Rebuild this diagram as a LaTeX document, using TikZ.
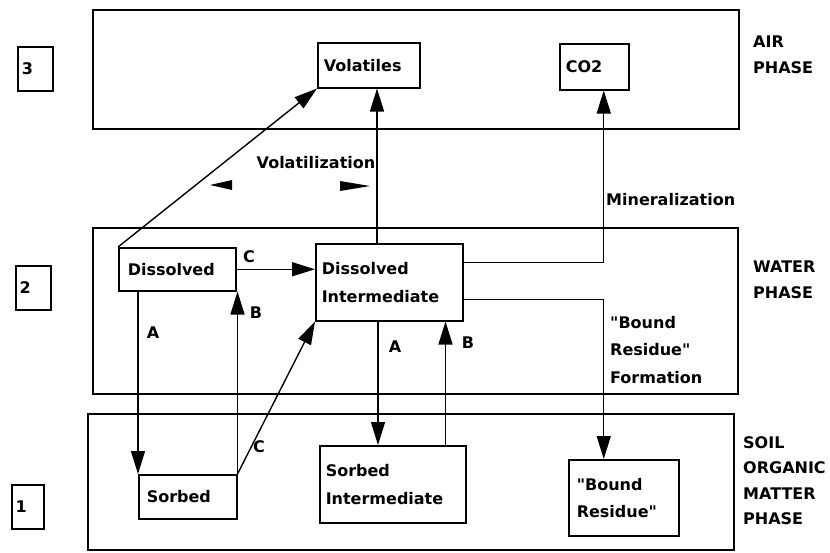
\documentclass[tikz,border=0pt]{standalone}
\usepackage{fontspec}
\setmainfont{DejaVu Sans}[Ligatures=TeXOff]
\usetikzlibrary{arrows.meta}
\begin{document}
\begin{tikzpicture}[x=1pt,y=-1pt,
  every node/.style={font=\bfseries\fontsize{16}{28}\selectfont, inner sep=0pt},
  phase/.style={draw, line width=1.7pt, anchor=north west},
  bx/.style={draw, line width=1.5pt, anchor=north west, align=left, inner xsep=6pt, inner ysep=0pt},
  lbl/.style={draw, line width=1.5pt, anchor=north west, align=left, inner xsep=4pt, minimum height=44pt},
  side/.style={anchor=north west, align=left, font=\bfseries\fontsize{16}{25.5}\selectfont},
  con/.style={line width=1.4pt},
  arr/.style={con, -{Triangle[length=23pt,width=14pt]}},
  tri/.style={fill=black}
]
\useasboundingbox[fill=white] (0,0) rectangle (830,552);

% phase boxes
\node[phase, minimum width=646pt, minimum height=119pt] (air) at (92,9) {};
\node[phase, minimum width=645pt, minimum height=166pt] (water) at (92,227) {};
\node[phase, minimum width=646pt, minimum height=136pt] (soil) at (87,413) {};

% phase numbers
\node[lbl, minimum width=35pt, text width=27pt] (n3) at (17,46) {3};
\node[lbl, minimum width=35pt, text width=27pt] (n2) at (15,265) {2};
\node[lbl, minimum width=32pt, text width=24pt] (n1) at (11,484) {1};

% phase names
\node[side] (airlab) at (753,36) {AIR\\PHASE};
\node[side] (waterlab) at (753,261) {WATER\\PHASE};
\node[side] (soillab) at (743,436) {SOIL\\ORGANIC\\MATTER\\PHASE};

% compartments
\node[bx, minimum width=102pt, text width=90pt, minimum height=45pt] (vol) at (317,42) {Volatiles};
\node[bx, minimum width=69pt, text width=57pt, minimum height=46pt] (co2) at (559,43) {CO2};
\node[bx, minimum width=117pt, minimum height=43pt, inner xsep=9pt, text width=99pt] (dis) at (118,247) {Dissolved};
\node[bx, minimum width=147pt, text width=135pt, minimum height=77pt] (di) at (315,243) {Dissolved\\Intermediate};
\node[bx, minimum width=98pt, text width=82pt, inner xsep=8pt, minimum height=44pt] (sor) at (138,474) {Sorbed};
\node[bx, minimum width=146pt, text width=134pt, minimum height=77pt] (si) at (319,445) {Sorbed\\Intermediate};
\node[bx, minimum width=110pt, text width=94pt, inner xsep=8pt, minimum height=76pt, font=\bfseries\fontsize{16}{27}\selectfont] (br) at (568,459) {"Bound\\Residue"};

% connectors
\draw[arr] (dis.north west) -- (vol.south west);
\draw[arr] ([xshift=62pt]di.north west) -- ([xshift=60pt]vol.south west);
\draw[arr] ([yshift=19.5pt]di.east) -| ([xshift=9.5pt]co2.south);
\draw[arr] ([yshift=-17.5pt]di.east) -| ([xshift=-20pt]br.north);
\draw[arr] (dis.east) -- (dis.east -| di.west);
\draw[arr] (sor.north west |- dis.south) -- (sor.north west);
\draw[arr] (sor.north east) -- (sor.north east |- dis.south);
\draw[arr] (sor.north east) -- (di.south west);
\draw[arr] ([xshift=63pt]di.south west) -- ([xshift=63pt]di.south west |- si.north);
\draw[arr] ([xshift=-21pt]si.north east) -- ([xshift=-21pt]si.north east |- di.south);

% connector labels
\node (cl1) at (249,257) {C};
\node (al1) at (153,333) {A};
\node (bl1) at (256,313) {B};
\node (cl2) at (259,447) {C};
\node (al2) at (395,347) {A};
\node (bl2) at (468,343) {B};

\node (volat) at (316,163) {Volatilization};
\fill[tri] (210,185) -- (232,180) -- (232,190) -- cycle;
\fill[tri] (370,186) -- (340,181) -- (340,191) -- cycle;
\node[anchor=west] (minz) at (606,200) {Mineralization};
\node[anchor=north west, align=left, font=\bfseries\fontsize{16}{27.5}\selectfont] (brf) at (610,316) {"Bound\\Residue"\\Formation};
\end{tikzpicture}
\end{document}
